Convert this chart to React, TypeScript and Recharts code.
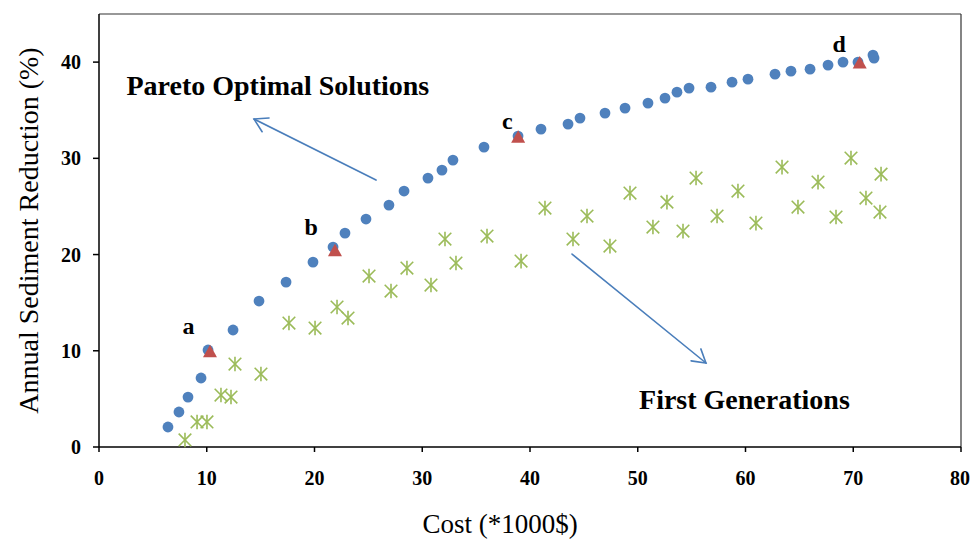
import React from 'react';
import { ScatterChart, Scatter, XAxis, YAxis, ReferenceLine, ReferenceDot } from 'recharts';

// ---- data ----
const paretoCost = [6.40, 7.42, 8.26, 9.47, 10.12, 12.44, 14.85, 17.36, 19.86, 21.72, 22.83, 24.78, 26.91, 28.31, 30.53, 31.83, 32.85, 35.73, 38.89, 41.02, 43.53, 44.64, 46.96, 48.82, 50.95, 52.53, 53.64, 54.76, 56.80, 58.75, 60.23, 62.74, 64.22, 65.99, 67.66, 69.05, 70.44, 71.83, 71.93];
const paretoReduction = [2.08, 3.64, 5.19, 7.17, 10.08, 12.16, 15.17, 17.14, 19.22, 20.78, 22.23, 23.69, 25.14, 26.60, 27.95, 28.78, 29.82, 31.17, 32.31, 33.04, 33.56, 34.18, 34.70, 35.22, 35.74, 36.26, 36.88, 37.30, 37.40, 37.92, 38.23, 38.75, 39.06, 39.27, 39.69, 40.00, 40.00, 40.73, 40.42];

const firstGenCost = [7.98, 9.10, 10.02, 11.32, 12.25, 12.62, 15.03, 17.63, 20.05, 22.09, 23.11, 25.06, 27.10, 28.58, 30.81, 32.11, 33.13, 36.01, 39.17, 41.39, 43.99, 45.29, 47.42, 49.28, 51.41, 52.71, 54.20, 55.41, 57.36, 59.30, 60.97, 63.39, 64.87, 66.73, 68.40, 69.79, 71.18, 72.58, 72.48];
const firstGenReduction = [0.73, 2.60, 2.60, 5.40, 5.19, 8.62, 7.58, 12.88, 12.36, 14.55, 13.40, 17.77, 16.21, 18.60, 16.83, 21.61, 19.12, 21.92, 19.32, 24.83, 21.61, 24.00, 20.88, 26.39, 22.86, 25.45, 22.44, 27.95, 24.00, 26.60, 23.27, 29.09, 24.94, 27.53, 23.90, 30.03, 25.87, 28.36, 24.42];

const selectedLabels = ['a', 'b', 'c', 'd'];
const selectedCost = [10.3, 21.9, 38.9, 70.6];
const selectedReduction = [9.9, 20.4, 32.2, 39.9];
const selectedLabelX = [8.3, 19.7, 37.9, 68.7];
const selectedLabelY = [11.7, 22.0, 33.1, 41.0];

const noteTexts = ['Pareto Optimal Solutions', 'First Generations'];
const noteX = [16.6, 59.9];
const noteY = [36.6, 3.95];
const arrowFromX = [25.71, 43.90];
const arrowFromY = [27.74, 20.05];
const arrowToX = [14.39, 56.33];
const arrowToY = [34.08, 8.73];

const xTicks = [0, 10, 20, 30, 40, 50, 60, 70, 80];
const yTicks = [0, 10, 20, 30, 40];

const pareto = paretoCost.map((x, i) => ({ x, y: paretoReduction[i] }));
const firstGen = firstGenCost.map((x, i) => ({ x, y: firstGenReduction[i] }));
const selected = selectedCost.map((x, i) => ({ x, y: selectedReduction[i] }));

const SERIF = '"Liberation Serif", "Times New Roman", serif';
const BLUE = '#4f81bd';
const RED = '#c0504d';
const GREEN = '#9bbb59';
const ARROW = '#4a7ebb';

const CircleShape = (p: any) => <circle cx={p.cx} cy={p.cy} r={5.4} fill={BLUE} />;
const TriShape = (p: any) => (
  <path d={`M${p.cx},${p.cy - 7} L${p.cx + 7},${p.cy + 5.5} L${p.cx - 7},${p.cy + 5.5} Z`} fill={RED} />
);
const StarShape = (p: any) => {
  const s = 6.3;
  const { cx, cy } = p;
  return (
    <g stroke={GREEN} strokeWidth={1.6}>
      <line x1={cx - s} y1={cy - s} x2={cx + s} y2={cy + s} />
      <line x1={cx + s} y1={cy - s} x2={cx - s} y2={cy + s} />
      <line x1={cx} y1={cy - s - 1} x2={cx} y2={cy + s + 1} />
    </g>
  );
};

const ArrowShape = (p: any) => {
  const { x1, y1, x2, y2 } = p;
  const a = Math.atan2(y2 - y1, x2 - x1);
  const L = 15;
  const sp = 0.54;
  const h1x = x2 - L * Math.cos(a - sp);
  const h1y = y2 - L * Math.sin(a - sp);
  const h2x = x2 - L * Math.cos(a + sp);
  const h2y = y2 - L * Math.sin(a + sp);
  return (
    <g stroke={ARROW} strokeWidth={1.6} fill="none" strokeLinecap="round">
      <line x1={x1} y1={y1} x2={x2} y2={y2} />
      <polyline points={`${h1x},${h1y} ${x2},${y2} ${h2x},${h2y}`} />
    </g>
  );
};

const makeText = (label: string, size: number) => (p: any) => (
  <text x={p.cx} y={p.cy} textAnchor="middle" fontFamily={SERIF} fontWeight="bold" fontSize={size} fill="#000">
    {label}
  </text>
);

export default function App() {
  return (
    <div style={{ position: 'absolute', left: 0, top: 0, width: 970, height: 541, background: '#fff' }}>
      <ScatterChart width={970} height={541} margin={{ top: 14, right: 9, left: 0, bottom: 0 }}>
        <XAxis
          type="number"
          dataKey="x"
          domain={[0, 80]}
          ticks={xTicks}
          height={94}
          tickSize={5}
          tickMargin={19}
          axisLine={{ stroke: '#000', strokeWidth: 1.5 }}
          tickLine={{ stroke: '#000', strokeWidth: 1.5 }}
          tick={{ fill: '#000', fontSize: 20, fontWeight: 'bold', fontFamily: SERIF }}
          label={{
            value: 'Cost (*1000$)',
            position: 'insideBottom',
            offset: 8,
            dx: -30,
            style: { fill: '#000', fontSize: 27, fontFamily: SERIF },
          }}
        />
        <YAxis
          type="number"
          dataKey="y"
          domain={[0, 45]}
          ticks={yTicks}
          width={99}
          tickSize={6}
          tickMargin={12}
          axisLine={{ stroke: '#000', strokeWidth: 1.5 }}
          tickLine={{ stroke: '#000', strokeWidth: 1.5 }}
          tick={{ fill: '#000', fontSize: 20, fontWeight: 'bold', fontFamily: SERIF }}
          label={{
            value: 'Annual Sediment Reduction (%)',
            angle: -90,
            position: 'insideLeft',
            offset: 14,
            dx: 14,
            style: { fill: '#000', fontSize: 28, fontFamily: SERIF, textAnchor: 'middle' },
          }}
        />
        <ReferenceLine y={45} stroke="#333" strokeWidth={1.2} />
        <ReferenceLine x={80} stroke="#333" strokeWidth={1.2} />
        <Scatter data={firstGen} shape={StarShape} isAnimationActive={false} />
        <Scatter data={pareto} shape={CircleShape} isAnimationActive={false} />
        <Scatter data={selected} shape={TriShape} isAnimationActive={false} />
        {arrowFromX.map((fx, i) => (
          <ReferenceLine
            key={'ar' + i}
            segment={[{ x: fx, y: arrowFromY[i] }, { x: arrowToX[i], y: arrowToY[i] }]}
            shape={ArrowShape}
            ifOverflow="visible"
          />
        ))}
        {noteTexts.map((t, i) => (
          <ReferenceDot key={'nt' + i} x={noteX[i]} y={noteY[i]} r={0} ifOverflow="visible" shape={makeText(t, 28)} />
        ))}
        {selectedLabels.map((t, i) => (
          <ReferenceDot key={'sl' + i} x={selectedLabelX[i]} y={selectedLabelY[i]} r={0} ifOverflow="visible" shape={makeText(t, 24)} />
        ))}
      </ScatterChart>
    </div>
  );
}
